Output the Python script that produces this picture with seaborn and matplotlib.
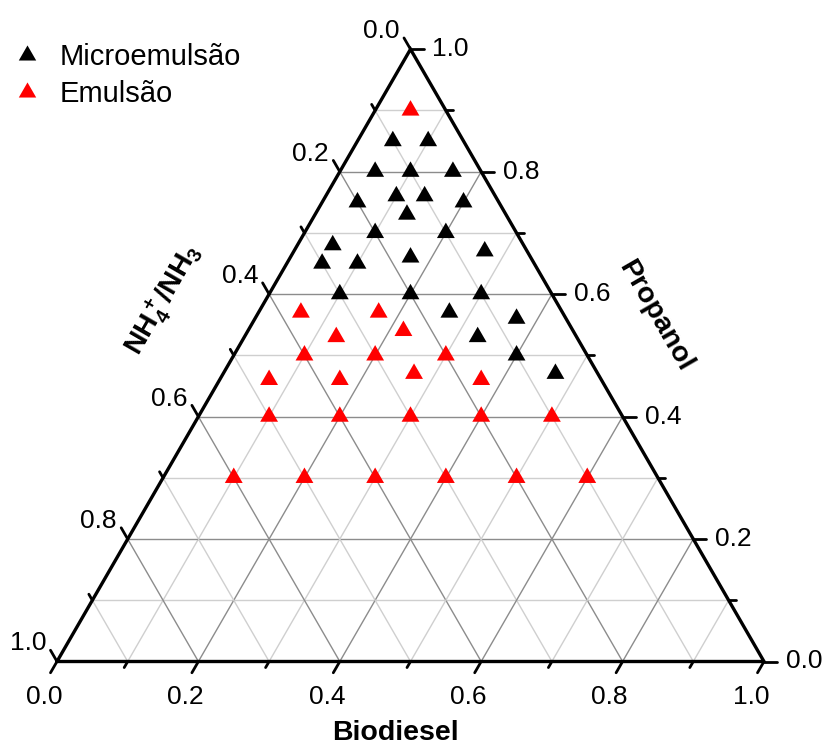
import numpy as np
import pandas as pd
import matplotlib
matplotlib.use("Agg")
import matplotlib.pyplot as plt
from matplotlib.lines import Line2D
import seaborn as sns

# ---- data (fractions): Biodiesel, Propanol; NH4+/NH3 = 1 - B - P ----
micro_biodiesel = [0.05, 0.10, 0.05, 0.10, 0.16, 0.10, 0.14, 0.05, 0.20, 0.13,
                   0.10, 0.20, 0.05, 0.05, 0.10, 0.17, 0.27, 0.10, 0.20, 0.30,
                   0.27, 0.37, 0.33, 0.40, 0.47]
micro_propanol = [0.85, 0.85, 0.80, 0.80, 0.80, 0.76, 0.76, 0.75, 0.75, 0.73,
                  0.70, 0.70, 0.68, 0.65, 0.65, 0.66, 0.67, 0.60, 0.60, 0.60,
                  0.57, 0.56, 0.53, 0.50, 0.47]
emul_biodiesel = [0.05, 0.06, 0.17, 0.13, 0.22, 0.10, 0.20, 0.30, 0.07, 0.17,
                  0.27, 0.37, 0.10, 0.20, 0.30, 0.40, 0.50, 0.10, 0.20, 0.30,
                  0.40, 0.50, 0.60]
emul_propanol = [0.90, 0.57, 0.57, 0.53, 0.54, 0.50, 0.50, 0.50, 0.46, 0.46,
                 0.47, 0.46, 0.40, 0.40, 0.40, 0.40, 0.40, 0.30, 0.30, 0.30,
                 0.30, 0.30, 0.30]
series_names = ["Microemulsão", "Emulsão"]
series_colors = ["black", "#ff0000"]
tick_values = [0.0, 0.2, 0.4, 0.6, 0.8, 1.0]
tick_labels = ["0.0", "0.2", "0.4", "0.6", "0.8", "1.0"]
axis_titles = ["Biodiesel", "Propanol", r"$\mathbf{NH_4^+/NH_3}$"]

H = np.sqrt(3) / 2

def to_xy(b, p):
    b = np.asarray(b, float); p = np.asarray(p, float)
    return b + p / 2, p * H

sns.set_theme(style="white")
plt.rcParams["font.family"] = ["Liberation Sans", "DejaVu Sans"]
plt.rcParams["text.color"] = "black"
plt.rcParams["mathtext.fontset"] = "custom"
plt.rcParams["mathtext.bf"] = "Liberation Sans:bold"
plt.rcParams["mathtext.rm"] = "Liberation Sans"

W, Hpx = 825, 745
fig = plt.figure(figsize=(W / 100, Hpx / 100), dpi=100)
ax = fig.add_axes([0, 0, 1, 1])
ox, oy, unit = 57.0, 661.5, 707.0
ax.set_axis_off()

px = 1.0 / unit  # one pixel in data units

# grid
for i in range(1, 10):
    v = i / 10
    col = "#8c8c8c" if i % 2 == 0 else "#cfcfcf"
    x0, y0 = to_xy(0, v); x1, y1 = to_xy(1 - v, v)
    ax.plot([x0, x1], [y0, y1], color=col, lw=1.0, zorder=1)
    x0, y0 = to_xy(v, 0); x1, y1 = to_xy(v, 1 - v)
    ax.plot([x0, x1], [y0, y1], color=col, lw=1.0, zorder=1)
    x0, y0 = to_xy(1 - v, 0); x1, y1 = to_xy(0, 1 - v)
    ax.plot([x0, x1], [y0, y1], color=col, lw=1.0, zorder=1)

# frame
tx, ty = to_xy([0, 1, 0, 0], [0, 0, 1, 0])
ax.plot(tx, ty, color="black", lw=2.4, zorder=3, solid_joinstyle="miter")

# ticks
d_bottom = np.array([-0.5, -H])
d_right = np.array([1.0, 0.0])
d_left = np.array([-0.5, H])
for i in range(11):
    v = i / 10
    L = (13 if i % 2 == 0 else 7) * px
    x, y = to_xy(v, 0)
    ax.plot([x, x + L * d_bottom[0]], [y, y + L * d_bottom[1]], color="black", lw=2.0, zorder=3)
    x, y = to_xy(1 - v, v)
    ax.plot([x, x + L * d_right[0]], [y, y + L * d_right[1]], color="black", lw=2.0, zorder=3)
    x, y = to_xy(0, 1 - v)
    ax.plot([x, x + L * d_left[0]], [y, y + L * d_left[1]], color="black", lw=2.0, zorder=3)

fs_tick = 19
for v, lab in zip(tick_values, tick_labels):
    x, y = to_xy(v, 0)
    ax.text(x - 13 * px, y - 36 * px, lab, ha="center", va="center", fontsize=fs_tick)
    x, y = to_xy(1 - v, v)
    ax.text(x + 22 * px, y, lab, ha="left", va="center", fontsize=fs_tick)
    x, y = to_xy(0, 1 - v)
    ax.text(x - 29 * px, y + 18 * px, lab, ha="center", va="center", fontsize=fs_tick)

# axis titles
fs_title = 20.5
ax.text((395 - ox) / unit, (oy - 733) / unit, axis_titles[0], ha="center", va="center",
        fontsize=fs_title, fontweight="bold")
ax.text((655 - ox) / unit, (oy - 316) / unit, axis_titles[1], ha="center", va="center",
        fontsize=fs_title, fontweight="bold", rotation=-60, rotation_mode="anchor")
ax.text((164 - ox) / unit, (oy - 300) / unit, axis_titles[2], ha="center", va="center",
        fontsize=fs_title, rotation=60, rotation_mode="anchor")

# data
mx, my = to_xy(micro_biodiesel, micro_propanol)
ex, ey = to_xy(emul_biodiesel, emul_propanol)
df = pd.DataFrame({
    "x": np.concatenate([mx, ex]),
    "y": np.concatenate([my, ey]),
    "serie": [series_names[0]] * len(mx) + [series_names[1]] * len(ex),
})
tri = [(-1, -0.57735), (1, -0.57735), (0, 1.1547), (-1, -0.57735)]
sns.scatterplot(data=df, x="x", y="y", hue="serie", hue_order=series_names,
                palette=dict(zip(series_names, series_colors)), marker=tri,
                s=220, linewidth=0, legend=False, ax=ax, zorder=4)
ax.set_xlim(-ox / unit, (W - ox) / unit)
ax.set_ylim((oy - Hpx) / unit, oy / unit)

handles = [Line2D([], [], ls="none", marker=tri, markersize=14.5, color=c, markeredgewidth=0)
           for c in series_colors]
ax.legend(handles, series_names, loc="upper left", bbox_to_anchor=(9 / W, 1 - 43 / Hpx),
          bbox_transform=fig.transFigure, frameon=False, fontsize=21,
          handlelength=1.2, handletextpad=0.55, labelspacing=0.32, borderaxespad=0,
          borderpad=0)

fig.savefig("out.png", dpi=100)
